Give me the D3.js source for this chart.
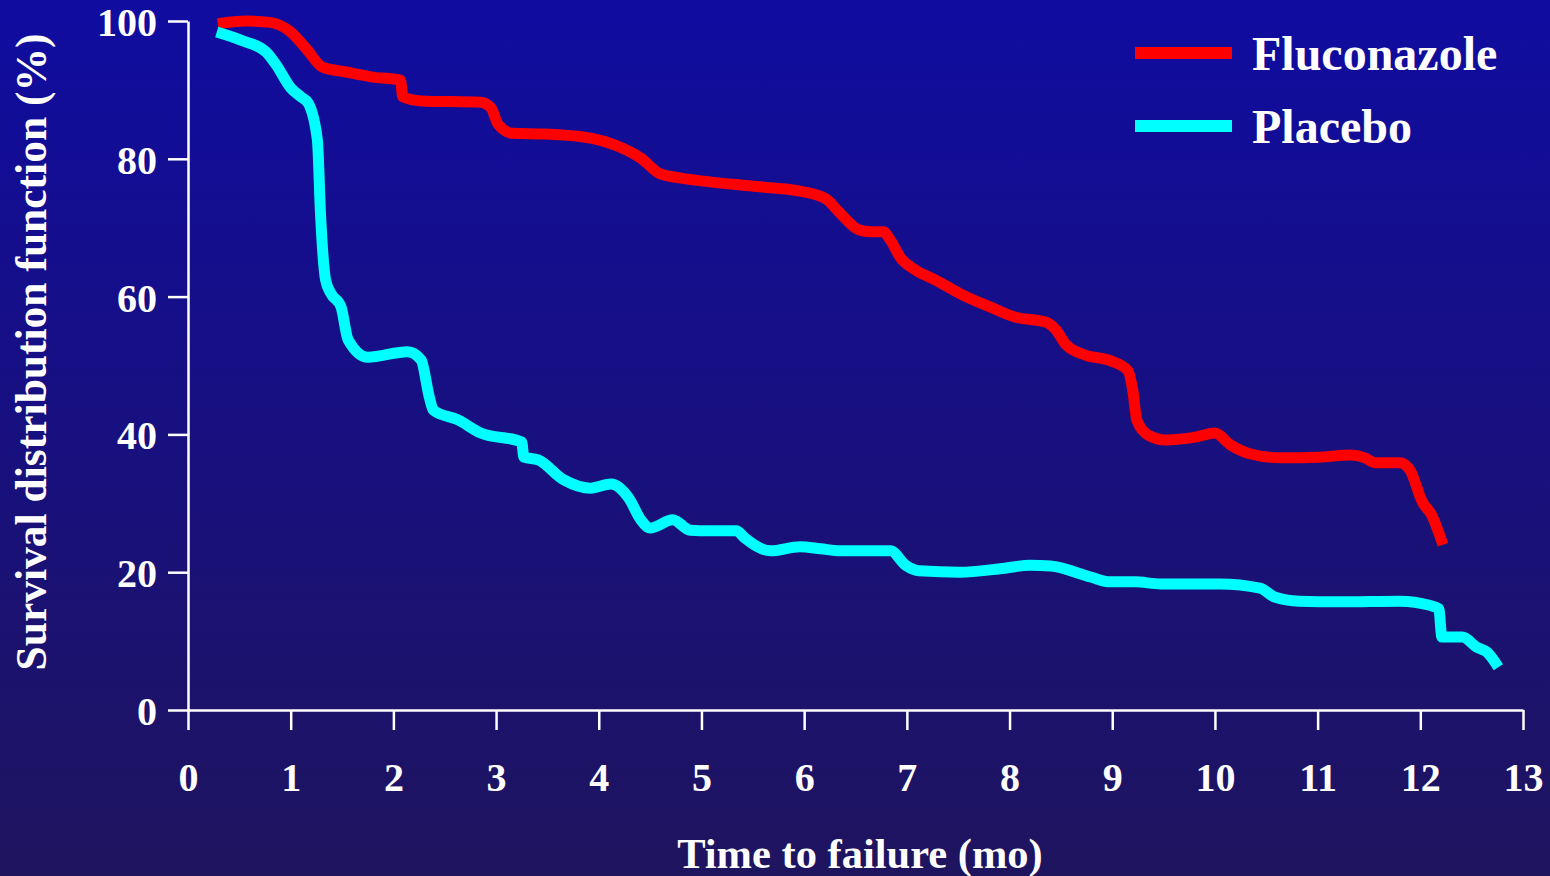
<!DOCTYPE html>
<html>
<head>
<meta charset="utf-8">
<script src="https://cdn.jsdelivr.net/npm/d3@7/dist/d3.min.js"></script>
<style>
  html, body { margin: 0; padding: 0; overflow: hidden; }
  svg { display: block; }
  text { font-family: "Liberation Serif", "Times New Roman", serif; font-weight: bold; fill: #ffffff; }
</style>
</head>
<body>
<svg id="chart" width="1550" height="876"></svg>
<script>
// Kaplan–Meier style survival curves (time in months, survival in %)
const fluconazoleTime = [0.29, 0.56, 0.8, 1.0, 1.15, 1.31, 1.54, 1.78, 2.07, 2.09, 2.27, 2.85, 2.95, 3.02, 3.16, 3.48, 3.92, 4.16, 4.41, 4.6, 4.8, 5.0, 5.38, 5.67, 5.96, 6.21, 6.35, 6.53, 6.65, 6.77, 6.84, 6.94, 7.08, 7.28, 7.52, 7.81, 8.06, 8.35, 8.45, 8.55, 8.74, 8.98, 9.15, 9.2, 9.24, 9.35, 9.52, 9.81, 10.0, 10.15, 10.34, 10.64, 11.02, 11.32, 11.46, 11.56, 11.8, 11.9, 12.02, 12.11, 12.22];
const fluconazoleSurv = [99.6, 100, 99.8, 98.4, 96, 93.3, 92.6, 91.9, 91.4, 89, 88.4, 88.2, 87.4, 85, 83.7, 83.6, 83, 82, 80.1, 77.8, 77.2, 76.8, 76.2, 75.8, 75.3, 74.2, 72.1, 69.7, 69.4, 69.4, 68.2, 65.6, 63.9, 62.4, 60.4, 58.5, 57, 56.3, 55.2, 53, 51.5, 50.7, 49.3, 46.4, 42, 39.9, 39.2, 39.6, 40.2, 38.5, 37.2, 36.6, 36.7, 37, 36.6, 35.9, 35.9, 34.8, 30.2, 28.3, 24];

const placeboTime = [0.28, 0.52, 0.76, 0.86, 1.0, 1.1, 1.17, 1.26, 1.29, 1.34, 1.39, 1.49, 1.56, 1.75, 2.14, 2.27, 2.35, 2.39, 2.63, 2.85, 3.25, 3.27, 3.41, 3.66, 3.92, 4.12, 4.29, 4.41, 4.5, 4.72, 4.89, 5.08, 5.34, 5.42, 5.67, 5.96, 6.16, 6.35, 6.84, 6.99, 7.12, 7.52, 7.91, 8.2, 8.4, 8.79, 8.98, 9.22, 9.47, 10.05, 10.44, 10.58, 10.82, 11.22, 11.8, 12.09, 12.18, 12.21, 12.41, 12.55, 12.65, 12.76];
const placeboSurv = [98.4, 97.2, 95.5, 93.6, 90.3, 89, 88.1, 82.7, 72.1, 62.4, 60.5, 58.5, 53.7, 51.2, 52, 50.8, 45.4, 43.5, 42.1, 40.2, 38.9, 36.7, 36.3, 33.4, 32.2, 32.8, 30.8, 27.6, 26.4, 27.6, 26.1, 26, 26, 25, 23.1, 23.7, 23.4, 23.1, 23.1, 21, 20.2, 20, 20.5, 21, 20.9, 19.3, 18.6, 18.6, 18.3, 18.3, 17.7, 16.4, 15.8, 15.7, 15.8, 15.2, 14.7, 10.6, 10.6, 9.1, 8.4, 6.2];

const xTicks = [0, 1, 2, 3, 4, 5, 6, 7, 8, 9, 10, 11, 12, 13];
const yTicks = [0, 20, 40, 60, 80, 100];

const seriesNames = ["Fluconazole", "Placebo"];
const seriesColors = ["#ff0000", "#00ffff"];

const svg = d3.select("#chart");
const W = 1550, H = 876;

// Background gradient
const defs = svg.append("defs");
const grad = defs.append("linearGradient").attr("id", "bg").attr("x1", 0).attr("y1", 0).attr("x2", 0).attr("y2", 1);
grad.append("stop").attr("offset", "0%").attr("stop-color", "#100ca0");
grad.append("stop").attr("offset", "100%").attr("stop-color", "#1f145e");
svg.append("rect").attr("width", W).attr("height", H).attr("fill", "url(#bg)");

const margin = { left: 188, top: 21, right: 27, bottom: 166 };
const x = d3.scaleLinear().domain([0, 13]).range([margin.left, W - margin.right]);
const y = d3.scaleLinear().domain([0, 100]).range([H - margin.bottom, margin.top]);

// Axes
const xAxis = svg.append("g")
  .attr("transform", `translate(0,${y(0)})`)
  .call(d3.axisBottom(x).tickValues(xTicks).tickFormat(d3.format("d")).tickSize(20).tickSizeOuter(0).tickPadding(33));
const yAxis = svg.append("g")
  .attr("transform", `translate(${x(0)},0)`)
  .call(d3.axisLeft(y).tickValues(yTicks).tickFormat(d3.format("d")).tickSize(20).tickSizeOuter(0).tickPadding(11));

[xAxis, yAxis].forEach(g => {
  g.selectAll("path, line").attr("stroke", "#ffffff").attr("stroke-width", 2.5);
  g.selectAll("text").style("font-family", '"Liberation Serif", "Times New Roman", serif')
    .style("font-weight", "bold").style("font-size", "40px").attr("fill", "#ffffff");
});
yAxis.selectAll("text").attr("dy", "0.36em");

// Axis titles
svg.append("text")
  .attr("x", 860).attr("y", 868)
  .attr("text-anchor", "middle")
  .style("font-size", "42.5px")
  .text("Time to failure (mo)");

svg.append("text")
  .attr("transform", "translate(46,352) rotate(-90)")
  .attr("text-anchor", "middle")
  .style("font-size", "43.5px")
  .text("Survival distribution function (%)");

// Survival curves
const line = d3.line()
  .x(d => x(d[0]))
  .y(d => y(d[1]))
  .curve(d3.curveMonotoneX);

const series = [
  d3.zip(fluconazoleTime, fluconazoleSurv),
  d3.zip(placeboTime, placeboSurv)
];

series.forEach((pts, i) => {
  svg.append("path")
    .datum(pts)
    .attr("d", line)
    .attr("fill", "none")
    .attr("stroke", seriesColors[i])
    .attr("stroke-width", 11)
    .attr("stroke-linejoin", "round")
    .attr("stroke-linecap", "butt");
});

// Legend
const legend = svg.append("g");
seriesNames.forEach((name, i) => {
  const cy = 53 + i * 73;
  legend.append("rect")
    .attr("x", 1135).attr("y", cy - 6)
    .attr("width", 97).attr("height", 12)
    .attr("fill", seriesColors[i]);
  legend.append("text")
    .attr("x", 1252).attr("y", cy + 17)
    .style("font-size", "48px")
    .text(name);
});
</script>
</body>
</html>
